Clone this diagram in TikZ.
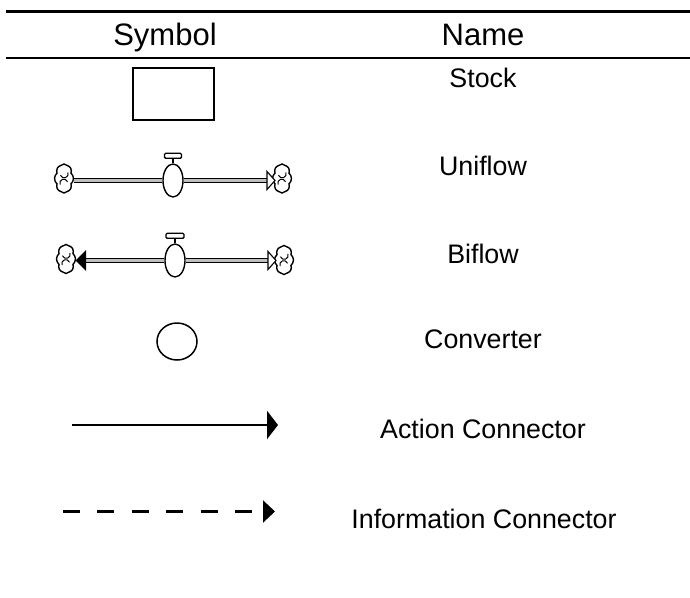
\documentclass[tikz,border=0pt]{standalone}
\usepackage{fontspec}
\setmainfont{Liberation Sans}
\usetikzlibrary{shapes.geometric,shapes.symbols,arrows.meta}

\tikzset{
  rule/.style={line width=2.2pt},
  head/.style={font=\fontsize{31}{36}\selectfont, anchor=base, inner sep=0pt},
  label/.style={font=\fontsize{26.8}{32}\selectfont, anchor=base, inner sep=0pt},
  stockbox/.style={draw, line width=1.6pt, minimum width=81pt, minimum height=52pt, inner sep=0pt},
  cloudsym/.style={cloud, cloud puffs=8, cloud puff arc=100, aspect=0.62, draw,
    line width=1.4pt, fill=white, minimum width=19pt, minimum height=29pt, inner sep=0pt},
  valve/.style={ellipse, draw, line width=1.4pt, fill=white, minimum width=20pt,
    minimum height=33pt, inner sep=0pt},
  pipe/.style={double=black!25, double distance=2.4pt, line width=1.2pt},
  openhead/.style={draw, line width=1.1pt, fill=white},
  solidhead/.style={draw, line width=1.1pt, fill=black},
  conv/.style={ellipse, draw, line width=1.5pt, minimum width=40pt, minimum height=37pt, inner sep=0pt},
  action/.style={line width=2.5pt, -{Triangle[length=11pt,width=28pt]}},
  info/.style={line width=2.2pt, dash pattern=on 17pt off 17.4pt, -{Triangle[length=12pt,width=22pt]}},
}

% cloud (source/sink) with two curly marks inside
\newcommand{\cloudcurls}[1]{%
  \draw[line width=1pt] ([shift={(-4pt,-6pt)}]#1.center) arc[start angle=200, end angle=20, radius=4pt];
  \draw[line width=1pt] ([shift={(4pt,6pt)}]#1.center) arc[start angle=20, end angle=-160, radius=4pt];
}

\begin{document}
\begin{tikzpicture}[x=1pt,y=-1pt]
  \useasboundingbox (0,0) rectangle (690,597);

  % table rules and headings
  \coordinate (r1l) at (6,11.5);  \coordinate (r1r) at (690,11.5);
  \coordinate (r2l) at (6,57.7);  \coordinate (r2r) at (690,57.7);
  \draw[rule] (r1l) -- (r1r);
  \draw[rule] (r2l) -- (r2r);
  \node[head] (hsym) at (165,45) {Symbol};
  \node[head] (hname) at (483,45) {Name};

  % stock
  \node[stockbox] (stock) at (173.5,94) {};
  \node[label] (lstock) at (483,87) {Stock};

  % uniflow
  \node[cloudsym] (ucl) at (64,178.5) {};
  \node[cloudsym] (ucr) at (282,178.5) {};
  \cloudcurls{ucl}
  \cloudcurls{ucr}
  \node[valve] (uv) at (173,180.5) {};
  \coordinate (uab) at (267,180.5);
  \coordinate (uat) at (275,180.5);
  \draw[pipe] (ucl.east |- uv) -- (uv.west);
  \draw[pipe] (uv.east) -- (uab);
  \draw[openhead] (uat) -- ([yshift=-9pt]uab) -- ([yshift=9pt]uab) -- cycle;
  \draw[line width=1.4pt] (uv.north) -- ++(0,-5) coordinate (ustem);
  \draw[line width=1.3pt, fill=white, rounded corners=1.2pt] ([xshift=-8.5pt]ustem) rectangle ++(17,-5);
  \node[label] (luni) at (483,175) {Uniflow};

  % biflow
  \node[cloudsym] (bcl) at (66,259) {};
  \node[cloudsym] (bcr) at (284,260) {};
  \cloudcurls{bcl}
  \cloudcurls{bcr}
  \node[valve] (bv) at (175,260.5) {};
  \coordinate (blb) at (85.5,260.5);
  \coordinate (blt) at (76.5,260.5);
  \coordinate (bab) at (268,260.5);
  \coordinate (bat) at (276,260.5);
  \draw[pipe] (blb) -- (bv.west);
  \draw[pipe] (bv.east) -- (bab);
  \draw[solidhead] (blt) -- ([yshift=-9pt]blb) -- ([yshift=9pt]blb) -- cycle;
  \draw[openhead] (bat) -- ([yshift=-9pt]bab) -- ([yshift=9pt]bab) -- cycle;
  \draw[line width=1.4pt] (bv.north) -- ++(0,-5) coordinate (bstem);
  \draw[line width=1.3pt, fill=white, rounded corners=1.2pt] ([xshift=-9pt]bstem) rectangle ++(18,-5);
  \node[label] (lbi) at (483,263) {Biflow};

  % converter
  \node[conv] (cv) at (177,341.5) {};
  \node[label] (lconv) at (483,348) {Converter};

  % action connector
  \coordinate (as) at (72,425);
  \coordinate (ae) at (278,425);
  \draw[action] (as) -- (ae);
  \node[label] (lact) at (483,438) {Action Connector};

  % information connector
  \coordinate (is) at (63,511.5);
  \coordinate (ie) at (275,511.5);
  \draw[info] (is) -- (ie);
  \node[label] (linf) at (484,528) {Information Connector};
\end{tikzpicture}
\end{document}
